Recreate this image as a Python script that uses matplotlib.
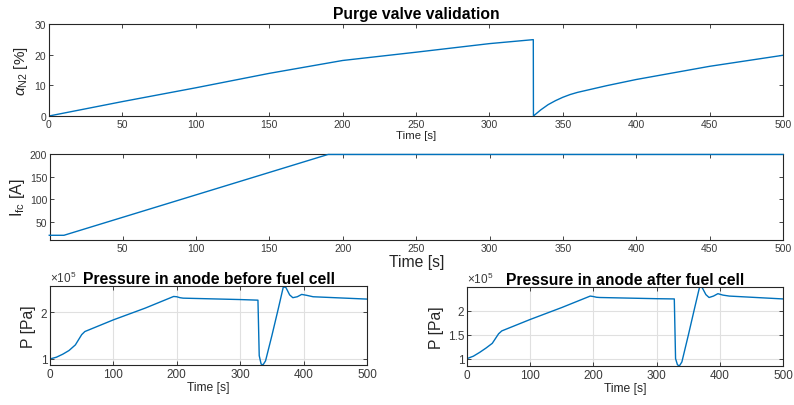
import matplotlib
matplotlib.use("Agg")
import matplotlib.pyplot as plt

plt.rcParams['font.family'] = ['Liberation Sans', 'DejaVu Sans']
plt.rcParams['mathtext.fontset'] = 'custom'
plt.rcParams['mathtext.rm'] = 'Liberation Sans'
plt.rcParams['mathtext.it'] = 'Liberation Sans:italic'

# ---- data ----
t_alpha = [0, 50, 100, 150, 200, 250, 300, 329.9, 330, 335, 340, 345, 350, 355, 360, 370, 380, 400, 450, 500]
alpha_n2 = [0, 4.7, 9.2, 13.9, 18.1, 20.8, 23.6, 24.9, 0, 2.0, 3.7, 5.0, 6.1, 7.0, 7.7, 8.8, 9.9, 11.9, 16.2, 19.8]

t_ifc = [0, 10, 190, 500]
i_fc = [20, 20, 200, 200]

t_p = [0, 10, 20, 30, 40, 50, 55, 100, 150, 195, 200, 205, 210, 300, 328, 330, 333, 336, 340,
       350, 360, 368, 372, 378, 383, 390, 397, 405, 415, 500]
p_before = [1.0, 1.036, 1.10, 1.18, 1.30, 1.52, 1.586, 1.836, 2.086, 2.336, 2.33, 2.31, 2.30, 2.27,
            2.257, 1.07, 0.89, 0.872, 0.96, 1.5, 2.07, 2.54, 2.53, 2.37, 2.31, 2.33, 2.38, 2.36, 2.33, 2.28]
p_after = [1.0, 1.05, 1.13, 1.22, 1.32, 1.52, 1.58, 1.82, 2.07, 2.31, 2.30, 2.285, 2.28, 2.255,
           2.25, 1.0, 0.87, 0.846, 0.93, 1.48, 2.05, 2.5, 2.49, 2.34, 2.28, 2.31, 2.36, 2.33, 2.31, 2.25]

W, H = 794, 406
fig = plt.figure(figsize=(W / 100, H / 100), dpi=100)

def ax_px(l, t, r, b):
    return fig.add_axes([l / W, (H - b) / H, (r - l) / W, (b - t) / H])

LC = '#0072BD'
SP = '#262626'

def style(ax, fs=7.5):
    for s in ax.spines.values():
        s.set_color(SP)
        s.set_linewidth(0.8)
    ax.tick_params(direction='in', top=True, right=True, labelsize=fs, colors=SP,
                   labelcolor='#3a3a3a', length=3, width=0.6, pad=2)

# top
ax1 = ax_px(49, 25, 783, 117)
ax1.plot(t_alpha, alpha_n2, color=LC, lw=1)
ax1.set_xlim(0, 500)
ax1.set_ylim(0, 30)
ax1.set_xticks(range(0, 501, 50))
ax1.set_yticks([0, 10, 20, 30])
style(ax1)
ax1.set_title('Purge valve validation', fontsize=11.3, fontweight='bold', pad=4)
ax1.set_xlabel('Time [s]', fontsize=8.2, labelpad=1, color=SP)
ax1.set_ylabel(r'$\alpha_{\mathrm{N2}}$ [%]', fontsize=11, labelpad=3, color=SP)

# middle
ax2 = ax_px(50, 155, 783, 241)
ax2.plot(t_ifc, i_fc, color=LC, lw=1, clip_on=False, zorder=3)
ax2.set_xlim(0.5, 500)
ax2.set_ylim(9.5, 201)
ax2.set_xticks(range(50, 501, 50))
ax2.set_yticks([50, 100, 150, 200])
style(ax2)
ax2.set_xlabel('Time [s]', fontsize=11.3, labelpad=1, color=SP)
ax2.set_ylabel(r'I$_{\mathrm{fc}}$ [A]', fontsize=11.5, labelpad=2, color=SP)

# bottom
def pressure(ax, y, title, ylim, yticks):
    ax.plot(t_p, y, color=LC, lw=1)
    ax.set_xlim(0, 500)
    ax.set_ylim(*ylim)
    ax.set_xticks(range(0, 501, 100))
    ax.set_yticks(yticks)
    ax.set_yticklabels([('%g' % v) for v in yticks])
    ax.grid(True, color='#e0e0e0', lw=0.8)
    ax.set_axisbelow(True)
    style(ax, 8.5)
    ax.set_title(title, fontsize=11.3, fontweight='bold', pad=2)
    ax.set_xlabel('Time [s]', fontsize=8.7, labelpad=1, color=SP)
    ax.set_ylabel('P [Pa]', fontsize=11.3, labelpad=3, color=SP)
    ax.text(0.0, 1.01, r'$\times10^5$', transform=ax.transAxes, fontsize=8.5, color='#3a3a3a',
            ha='left', va='bottom')

ax3 = ax_px(50, 287, 367, 366)
pressure(ax3, p_before, 'Pressure in anode before fuel cell', (0.87, 2.56), [1, 2])
ax4 = ax_px(467, 288, 783, 367)
pressure(ax4, p_after, 'Pressure in anode after fuel cell', (0.845, 2.50), [1, 1.5, 2])

fig.savefig('out.png', dpi=100)
